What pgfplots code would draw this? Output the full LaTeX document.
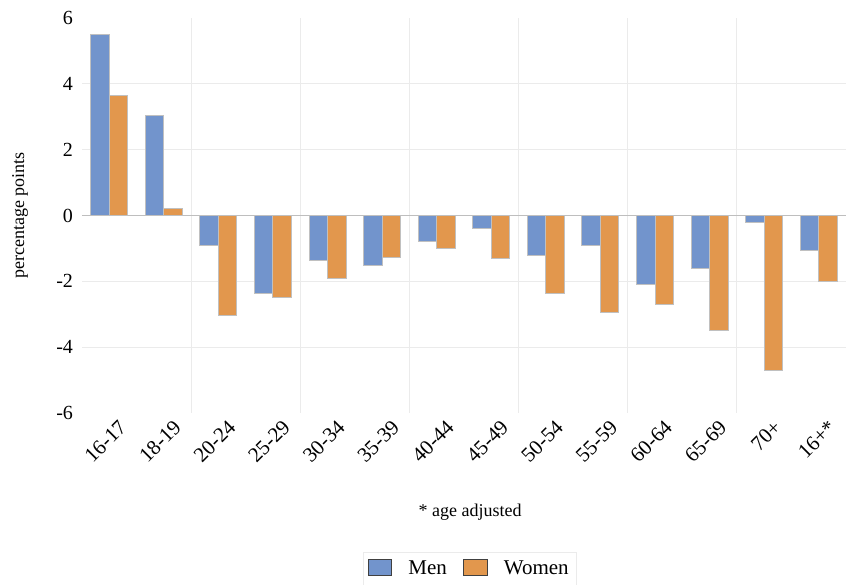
\documentclass[border=0pt]{standalone}
\usepackage{fontspec}
\setmainfont{Liberation Serif}
\usepackage{pgfplots}
\pgfplotsset{compat=1.18}
\definecolor{menblue}{RGB}{114,148,204}
\definecolor{womenorange}{RGB}{226,151,77}
\definecolor{barline}{RGB}{192,192,192}
\definecolor{gridc}{RGB}{235,235,235}
\definecolor{zeroc}{RGB}{190,190,190}

\begin{document}
\begin{tikzpicture}
% page = 846x584 px at 0.5pt per px
\path[use as bounding box] (-41pt,-85.5pt) rectangle (382pt,206.5pt);
\begin{axis}[
  at={(0pt,0pt)}, anchor=south west,
  scale only axis,
  width=382pt, height=197.5pt,
  ybar=0pt, bar width=0.34,
  xmin=-0.5, xmax=13.5,
  ymin=-6, ymax=6,
  axis line style={draw=none},
  xtick={0,...,13},
  xticklabels={16-17,18-19,20-24,25-29,30-34,35-39,40-44,45-49,50-54,55-59,60-64,65-69,70+,16+*},
  x tick label style={rotate=45,anchor=north east,font=\fontsize{10.5}{12}\selectfont,inner sep=1pt,yshift=-4pt,xshift=2pt},
  ytick={-6,-4,...,6},
  y tick label style={font=\fontsize{10}{12}\selectfont,xshift=-1pt},
  /pgf/number format/assume math mode=true,
  major tick length=0pt,
  extra x ticks={1.5,3.5,5.5,7.5,9.5,11.5,13.5},
  extra x tick labels={},
  extra y ticks={-4,-2,2,4},
  extra y tick labels={},
  extra tick style={grid=major, major grid style={draw=gridc,line width=0.5pt}},
  ylabel={percentage points},
  ylabel style={at={(axis description cs:-0.081,0.5)},anchor=center,font=\fontsize{9}{10}\selectfont},
  legend style={at={(0.508,-0.395)},anchor=center,draw=gridc,legend columns=2,
    font=\fontsize{10.5}{12}\selectfont,column sep=6pt,inner sep=2pt},
  clip=false,
]
\draw[zeroc,line width=0.7pt] (axis cs:-0.5,0) -- (axis cs:13.5,0);
\addplot[fill=menblue,draw=barline,line width=0.5pt,
  legend image code/.code={\draw[fill=menblue,draw=black!75,line width=0.5pt] (0cm,-0.12cm) rectangle (0.42cm,0.16cm);}]
  coordinates {(0,5.49)(1,3.05)(2,-0.90)(3,-2.36)(4,-1.38)(5,-1.53)(6,-0.78)(7,-0.41)(8,-1.23)(9,-0.90)(10,-2.11)(11,-1.60)(12,-0.20)(13,-1.05)};
\addplot[fill=womenorange,draw=barline,line width=0.5pt,
  legend image code/.code={\draw[fill=womenorange,draw=black!75,line width=0.5pt] (0cm,-0.12cm) rectangle (0.42cm,0.16cm);}]
  coordinates {(0,3.66)(1,0.20)(2,-3.05)(3,-2.48)(4,-1.90)(5,-1.29)(6,-0.99)(7,-1.32)(8,-2.36)(9,-2.96)(10,-2.69)(11,-3.48)(12,-4.70)(13,-1.99)};
\legend{Men,Women}
\node[font=\fontsize{9}{10}\selectfont] at (rel axis cs:0.508,-0.251) {* age adjusted};
\end{axis}
\end{tikzpicture}
\end{document}
